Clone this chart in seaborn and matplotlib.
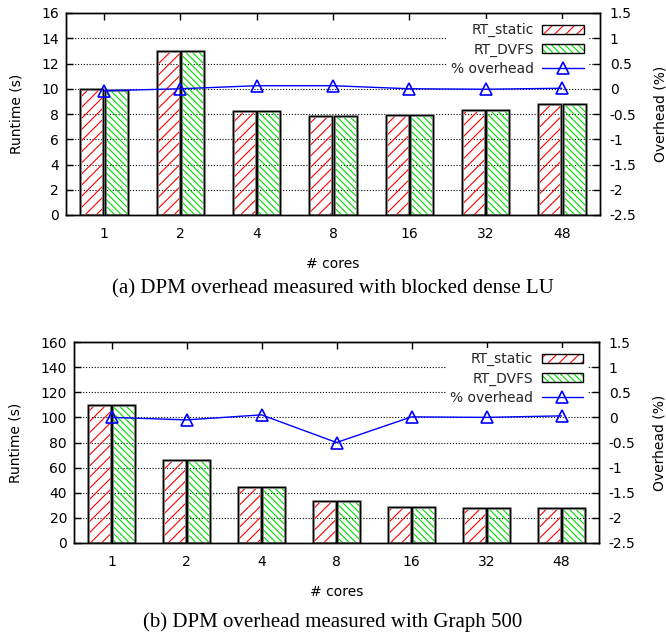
import numpy as np
import pandas as pd
import seaborn as sns
import matplotlib
matplotlib.use("Agg")
import matplotlib.pyplot as plt
from matplotlib.patches import Patch
from matplotlib.lines import Line2D

# ---------------- data ----------------
cores = ["1", "2", "4", "8", "16", "32", "48"]
series = ["RT_static", "RT_DVFS"]

lu_static = [10.0, 13.0, 8.2, 7.86, 7.94, 8.33, 8.78]
lu_dvfs = [9.93, 13.0, 8.2, 7.86, 7.94, 8.33, 8.78]
lu_overhead = [-0.04, 0.0, 0.06, 0.06, 0.0, -0.01, 0.01]

g500_static = [110.1, 66.3, 44.6, 33.7, 28.6, 27.9, 27.9]
g500_dvfs = [110.1, 66.3, 44.6, 33.7, 28.6, 27.9, 27.9]
g500_overhead = [0.0, -0.05, 0.05, -0.5, 0.01, 0.0, 0.03]

left_ticks_a = [0, 2, 4, 6, 8, 10, 12, 14, 16]
left_ticks_b = [0, 20, 40, 60, 80, 100, 120, 140, 160]
right_ticks = [-2.5, -2.0, -1.5, -1.0, -0.5, 0.0, 0.5, 1.0, 1.5]

captions = ["(a) DPM overhead measured with blocked dense LU",
            "(b) DPM overhead measured with Graph 500"]

# ---------------- style ----------------
sns.set_theme(style="white")
plt.rcParams["font.family"] = ["DejaVu Sans"]
plt.rcParams["hatch.linewidth"] = 0.8
FS = 10
bar_colors = ["#ff0000", "#00dd00"]
hatches = ["///", "\\\\\\\\\\"]
line_color = "#0000ff"

W, H = 666, 639
fig = plt.figure(figsize=(W / 100, H / 100), dpi=100)


def frac(l, t, r, b):
    return [l / W, 1 - b / H, (r - l) / W, (b - t) / H]


def panel(rect, static, dvfs, overhead, lticks, caption, cap_y, xlab_pad):
    ax = fig.add_axes(rect)
    df = pd.DataFrame({
        "cores": cores * 2,
        "series": [series[0]] * len(cores) + [series[1]] * len(cores),
        "runtime": list(static) + list(dvfs),
    })
    common = dict(data=df, x="cores", y="runtime", hue="series", order=cores,
                  hue_order=series, width=0.64, gap=0.06, legend=False,
                  fill=False, ax=ax, err_kws={"linewidth": 0}, errorbar=None)
    # hatched fill layer
    sns.barplot(palette=bar_colors, linewidth=0, **common)
    for cont, h in zip(ax.containers, hatches):
        for bar in cont:
            bar.set_hatch(h)
    # soft grey shadow + black outline
    sns.barplot(palette=["#a0a0a0", "#a0a0a0"], linewidth=2.0, **common)
    sns.barplot(palette=["black", "black"], linewidth=1.0, **common)

    ax.set_xlim(-0.5, len(cores) - 0.5)
    ax.set_ylim(lticks[0], lticks[-1])
    ax.set_yticks(lticks)
    ax.set_yticklabels([f"{v:g}" for v in lticks], fontsize=FS)
    ax.set_xticks(range(len(cores)))
    ax.set_xticklabels(cores, fontsize=FS)
    ax.set_axisbelow(True)
    ax.yaxis.grid(True, linestyle=(0, (1, 1.6)), color="black", linewidth=0.8)
    ax.xaxis.grid(False)
    ax.tick_params(axis="x", direction="in", length=5, width=1, top=True,
                   bottom=True, pad=9, colors="black")
    ax.tick_params(axis="y", direction="in", length=5, width=1, left=True,
                   right=False, pad=5, colors="black")
    for s in ax.spines.values():
        s.set_color("black")
        s.set_linewidth(1.0)
    ax.set_xlabel("# cores", fontsize=FS, labelpad=xlab_pad, color="black")
    ax.set_ylabel("Runtime (s)", fontsize=FS, color="black")

    ax2 = ax.twinx()
    sns.lineplot(x=np.arange(len(cores)), y=overhead, ax=ax2, color=line_color,
                 linewidth=1.0, marker="^", markersize=8.5,
                 markerfacecolor="none", markeredgecolor=line_color,
                 markeredgewidth=1.2, legend=False)
    ax2.set_xlim(-0.5, len(cores) - 0.5)
    ax2.set_ylim(right_ticks[0], right_ticks[-1])
    ax2.set_yticks(right_ticks)
    ax2.set_yticklabels([f"{v:g}" for v in right_ticks], fontsize=FS)
    ax2.tick_params(axis="y", direction="in", length=5, width=1, pad=7,
                    colors="black")
    ax2.set_ylabel("Overhead (%)", fontsize=FS, color="black")
    ax2.grid(False)
    for s in ax2.spines.values():
        s.set_color("black")
        s.set_linewidth(1.0)

    handles = [
        (Patch(facecolor="none", edgecolor=bar_colors[0], hatch=hatches[0], linewidth=0),
         Patch(facecolor="none", edgecolor="black", linewidth=1.0)),
        (Patch(facecolor="none", edgecolor=bar_colors[1], hatch=hatches[1], linewidth=0),
         Patch(facecolor="none", edgecolor="black", linewidth=1.0)),
        Line2D([], [], color=line_color, linewidth=1.0, marker="^", markersize=8.5,
               markerfacecolor="none", markeredgewidth=1.2),
    ]
    leg = ax2.legend(handles, series + ["% overhead"], loc="upper right",
                     bbox_to_anchor=(0.978, 0.97), markerfirst=False,
                     frameon=True, fancybox=False, framealpha=1,
                     facecolor="white", edgecolor="none", fontsize=FS,
                     handlelength=3.0, handleheight=0.65, handletextpad=0.6,
                     labelspacing=0.38, borderpad=0.3, borderaxespad=0,
                     numpoints=1)
    leg.set_zorder(20)

    fig.text(333 / W, 1 - cap_y / H, caption, ha="center", va="center",
             fontsize=15, family=["Liberation Serif"], color="black")
    return ax, ax2


axa, axa2 = panel(frac(66, 13, 600, 215), lu_static, lu_dvfs, lu_overhead,
                  left_ticks_a, captions[0], 289, 11)
axa.yaxis.set_label_coords(-0.08, 0.5)
axa2.yaxis.set_label_coords(1.1, 0.5)

axb, axb2 = panel(frac(74, 342, 599, 543), g500_static, g500_dvfs, g500_overhead,
                  left_ticks_b, captions[1], 622, 11)
axb.yaxis.set_label_coords(-0.099, 0.5)
axb2.yaxis.set_label_coords(1.102, 0.5)

fig.savefig("out.png", dpi=100)
